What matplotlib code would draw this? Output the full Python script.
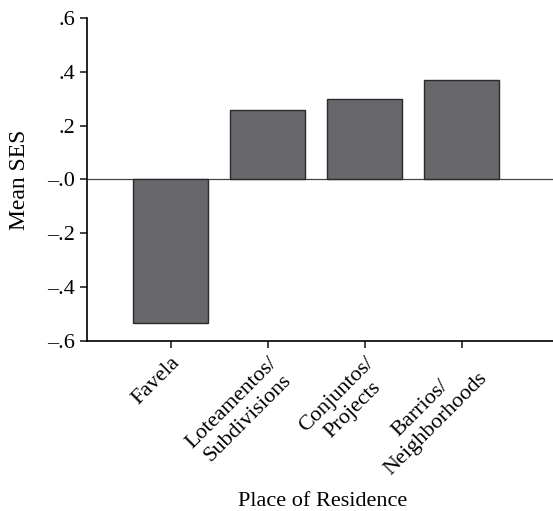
import numpy as np
import matplotlib.pyplot as plt

plt.rcParams['font.family'] = ['Liberation Serif', 'DejaVu Serif']

# Mean SES by place of residence
places = ['Favela', 'Loteamentos/\nSubdivisions', 'Conjuntos/\nProjects', 'Barrios/\nNeighborhoods']
mean_ses = [-0.535, 0.256, 0.298, 0.370]
yticks = [0.6, 0.4, 0.2, 0.0, -0.2, -0.4, -0.6]
ytick_labels = ['.6', '.4', '.2', '\u2013.0', '\u2013.2', '\u2013.4', '\u2013.6']

fig = plt.figure(figsize=(5.53, 5.11), dpi=100)
ax = fig.add_axes([0.157, 0.333, 0.843, 0.632])

x = np.arange(len(places))
ax.bar(x, mean_ses, width=0.77, color='#68686c', edgecolor='#2a2a2a', linewidth=1.0, zorder=3)
ax.axhline(0, color='#444444', linewidth=0.9, zorder=2)

ax.set_xlim(-0.866, 3.94)
ax.set_ylim(-0.6, 0.6)
ax.set_yticks(yticks)
ax.set_yticklabels(ytick_labels, fontsize=16)
ax.set_xticks(x)
ax.set_xticklabels(places, fontsize=16, rotation=45, ha='right', va='top',
                   rotation_mode='anchor', multialignment='center', linespacing=1.25)

ax.spines['top'].set_visible(False)
ax.spines['right'].set_visible(False)
ax.spines['left'].set_linewidth(1.2)
ax.spines['bottom'].set_linewidth(1.2)
ax.tick_params(direction='out', length=5, width=1.2, color='#222222')
ax.tick_params(axis='x', pad=4)

ax.set_ylabel('Mean SES', fontsize=17, labelpad=12)
ax.set_xlabel('Place of Residence', fontsize=16)
ax.xaxis.set_label_coords(0.505, -0.468)

plt.savefig('out.png', dpi=100)
